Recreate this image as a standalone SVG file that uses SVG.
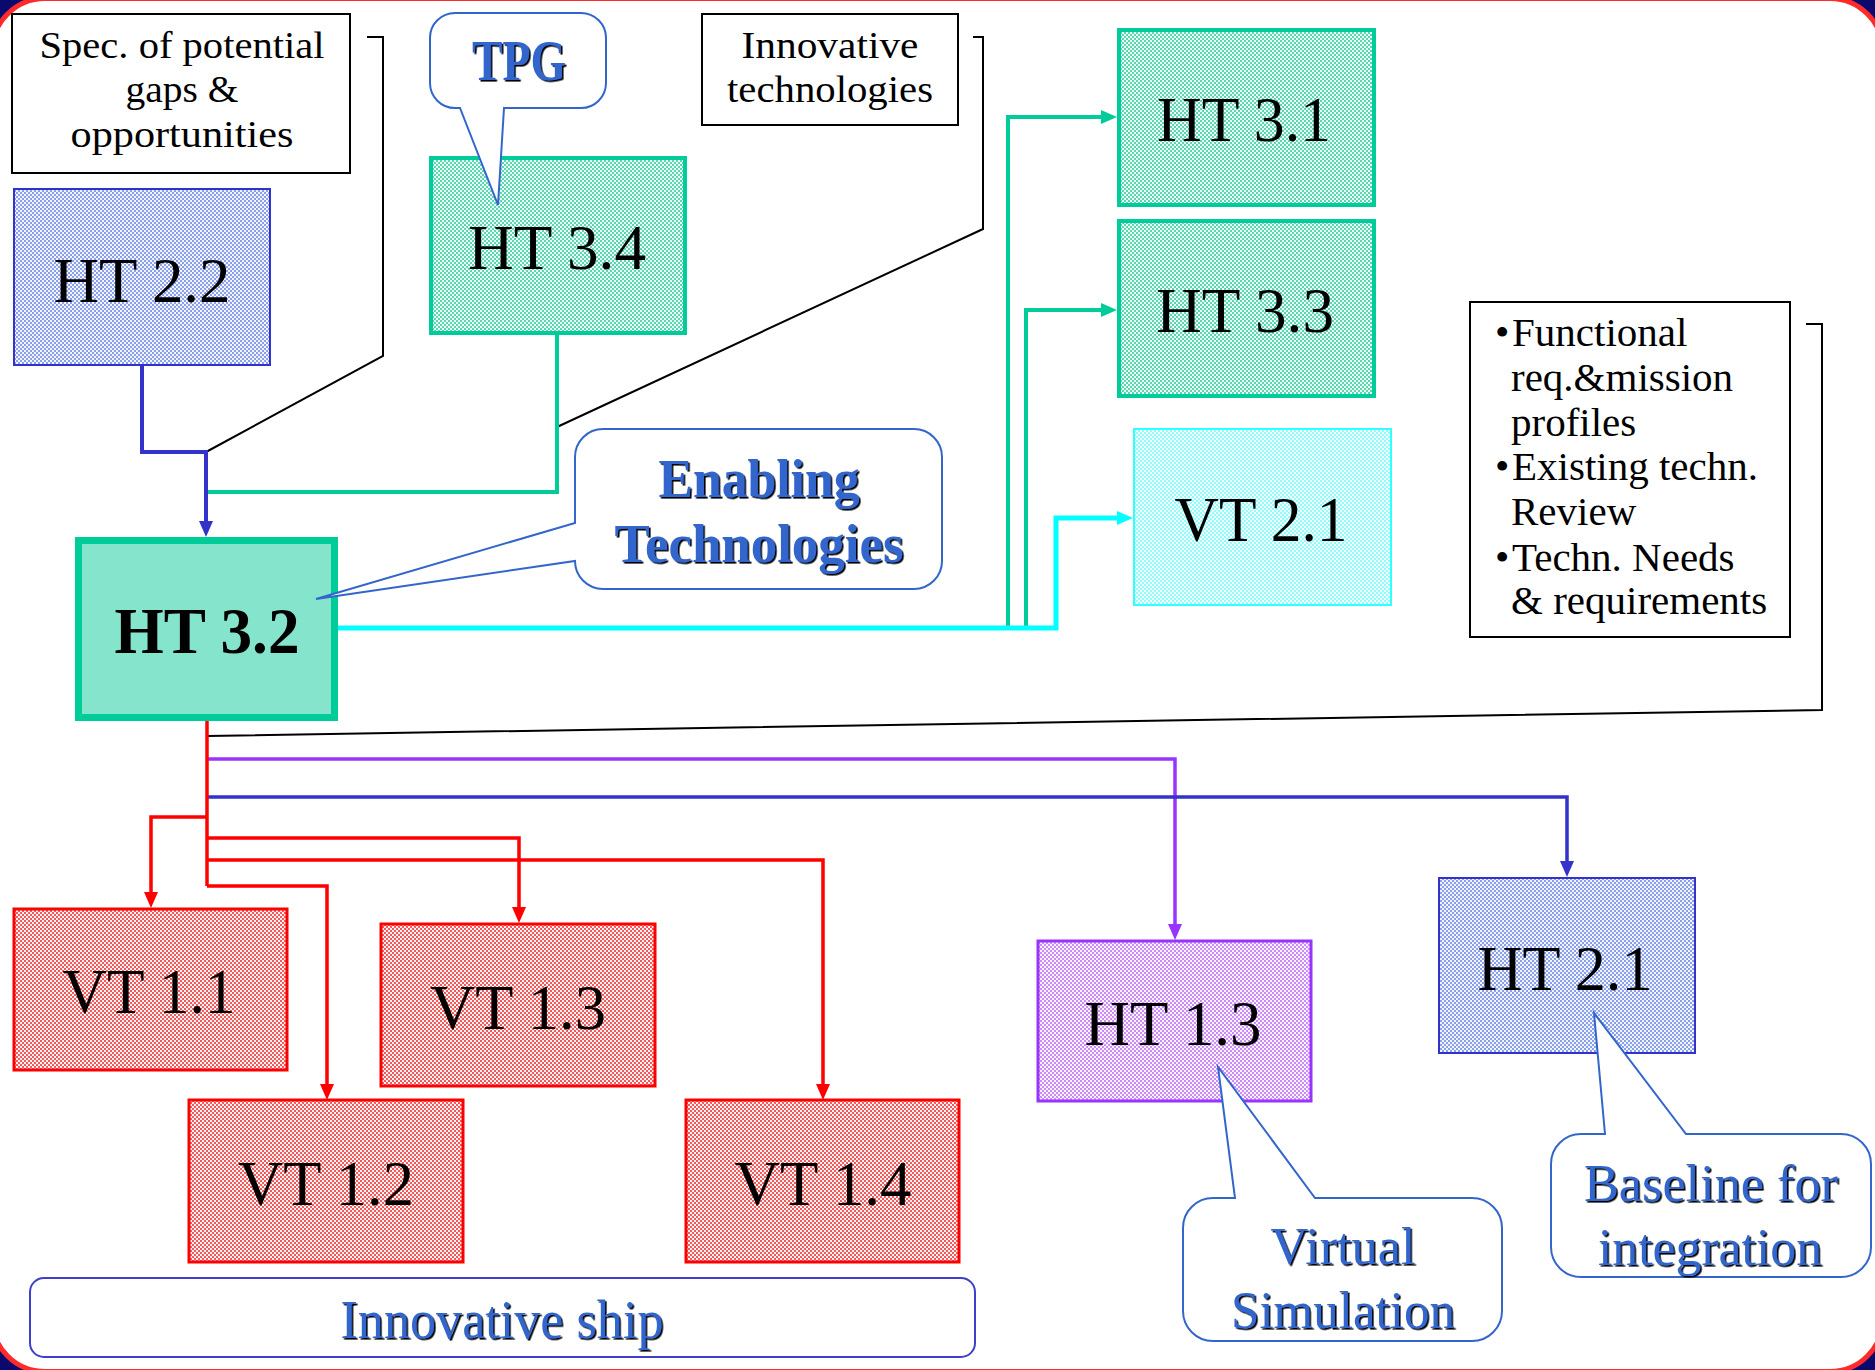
<svg xmlns="http://www.w3.org/2000/svg" width="1875" height="1370" viewBox="0 0 1875 1370">
  <style>
    .lbl { font-family: "Liberation Serif", "Times New Roman", serif; font-size: 64px; fill: #000; text-anchor: middle; }
    .note { font-family: "Liberation Serif", "Times New Roman", serif; font-size: 38px; fill: #000; text-anchor: middle; }
    .bul { font-family: "Liberation Serif", "Times New Roman", serif; font-size: 41px; fill: #000; }
    .call { font-family: "Liberation Serif", "Times New Roman", serif; font-size: 54px; fill: #3366cc; text-anchor: middle; filter: url(#shadow); }
    .bold { font-weight: bold; }
    .frame { fill: #fff; stroke: #000; stroke-width: 2; }
    .bubble { fill: #fff; stroke: #3366cc; stroke-width: 2; }
    .leader { fill: none; stroke: #000; stroke-width: 2; }
    .wire { fill: none; stroke-linejoin: miter; }
  </style>
  <defs>
    <filter id="shadow" x="-5%" y="-5%" width="115%" height="125%">
      <feDropShadow dx="1.6" dy="1.6" stdDeviation="0.3" flood-color="#000" flood-opacity="1"/>
    </filter>
    <!-- dotted screen fills -->
    <pattern id="dotBlue" width="4" height="4" patternUnits="userSpaceOnUse">
      <rect width="4" height="4" fill="#f2f5fe"/>
      <rect width="2" height="2" fill="#8aa0ea"/>
      <rect x="2" y="2" width="2" height="2" fill="#8aa0ea"/>
    </pattern>
    <pattern id="dotGreen" width="4" height="4" patternUnits="userSpaceOnUse">
      <rect width="4" height="4" fill="#ecfbf6"/>
      <rect width="2" height="2" fill="#5cd6b1"/>
      <rect x="2" y="2" width="2" height="2" fill="#5cd6b1"/>
    </pattern>
    <pattern id="dotRed" width="4" height="4" patternUnits="userSpaceOnUse">
      <rect width="4" height="4" fill="#fff2f2"/>
      <rect width="2" height="2" fill="#f05a5a"/>
      <rect x="2" y="2" width="2" height="2" fill="#f05a5a"/>
    </pattern>
    <pattern id="dotPurple" width="4" height="4" patternUnits="userSpaceOnUse">
      <rect width="4" height="4" fill="#fbf3ff"/>
      <rect width="2" height="2" fill="#cc8cf8"/>
      <rect x="2" y="2" width="2" height="2" fill="#cc8cf8"/>
    </pattern>
    <pattern id="dotCyan" width="4" height="4" patternUnits="userSpaceOnUse">
      <rect width="4" height="4" fill="#efffff"/>
      <rect width="2" height="2" fill="#95fafa"/>
      <rect x="2" y="2" width="2" height="2" fill="#95fafa"/>
    </pattern>
    <marker id="arrBlue" viewBox="0 0 16 14" refX="3" refY="7" markerWidth="16" markerHeight="14" markerUnits="userSpaceOnUse" orient="auto">
      <path d="M0,0 L16,7 L0,14 Z" fill="#3333cc"/>
    </marker>
    <marker id="arrGreen" viewBox="0 0 16 14" refX="3" refY="7" markerWidth="16" markerHeight="14" markerUnits="userSpaceOnUse" orient="auto">
      <path d="M0,0 L16,7 L0,14 Z" fill="#00cc99"/>
    </marker>
    <marker id="arrCyan" viewBox="0 0 16 14" refX="3" refY="7" markerWidth="16" markerHeight="14" markerUnits="userSpaceOnUse" orient="auto">
      <path d="M0,0 L16,7 L0,14 Z" fill="#00ffff"/>
    </marker>
    <marker id="arrRed" viewBox="0 0 16 14" refX="3" refY="7" markerWidth="16" markerHeight="14" markerUnits="userSpaceOnUse" orient="auto">
      <path d="M0,0 L16,7 L0,14 Z" fill="#ff0000"/>
    </marker>
    <marker id="arrPurple" viewBox="0 0 16 14" refX="3" refY="7" markerWidth="16" markerHeight="14" markerUnits="userSpaceOnUse" orient="auto">
      <path d="M0,0 L16,7 L0,14 Z" fill="#9933ff"/>
    </marker>
  </defs>

  <!-- page frame -->
  <g id="page">
    <rect x="0" y="0" width="1875" height="1370" fill="#0a0a6e"/>
    <rect x="-8" y="-1.5" width="1891" height="1373" rx="53" ry="53" fill="#fff" stroke="#ff2a2a" stroke-width="5"/>
  </g>

  <!-- connectors -->
  <g id="connectors">
    <!-- leader lines from the annotation boxes -->
    <polyline class="leader" points="367,37 383,37 383,356 206,452"/>
    <polyline class="leader" points="973,37 983,37 983,229 557,427"/>
    <polyline class="leader" points="1806,324 1822,324 1822,710 207,736"/>

    <!-- inputs into HT 3.2 -->
    <path class="wire" d="M557,334 V492 H206" stroke="#00cc99" stroke-width="4"/>
    <path class="wire" d="M142,365 V452 H206 V524" stroke="#3333cc" stroke-width="4" marker-end="url(#arrBlue)"/>

    <!-- outputs to HT 3.1 / HT 3.3 / VT 2.1 -->
    <path class="wire" d="M1008,630 V117 H1104" stroke="#00cc99" stroke-width="4" marker-end="url(#arrGreen)"/>
    <path class="wire" d="M1026,630 V310 H1104" stroke="#00cc99" stroke-width="4" marker-end="url(#arrGreen)"/>
    <path class="wire" d="M338,628 H1056 V518 H1120" stroke="#00ffff" stroke-width="5" marker-end="url(#arrCyan)"/>

    <!-- outputs to HT 1.3 and HT 2.1 -->
    <path class="wire" d="M207,759 H1175 V927" stroke="#9933ff" stroke-width="3.5" marker-end="url(#arrPurple)"/>
    <path class="wire" d="M207,797 H1567 V864" stroke="#3333cc" stroke-width="3.5" marker-end="url(#arrBlue)"/>

    <!-- outputs to VT 1.x -->
    <path class="wire" d="M207,721 V886" stroke="#ff0000" stroke-width="3.5"/>
    <path class="wire" d="M207,817 H151 V895" stroke="#ff0000" stroke-width="3.5" marker-end="url(#arrRed)"/>
    <path class="wire" d="M207,838 H519 V910" stroke="#ff0000" stroke-width="3.5" marker-end="url(#arrRed)"/>
    <path class="wire" d="M207,860 H823 V1087" stroke="#ff0000" stroke-width="3.5" marker-end="url(#arrRed)"/>
    <path class="wire" d="M207,886 H327 V1087" stroke="#ff0000" stroke-width="3.5" marker-end="url(#arrRed)"/>
  </g>

  <!-- annotation boxes -->
  <g id="spec-note">
    <rect class="frame" x="12" y="14" width="338" height="159"/>
    <text class="note" x="182" y="58" textLength="285" lengthAdjust="spacingAndGlyphs">Spec. of potential</text>
    <text class="note" x="182" y="102" textLength="113" lengthAdjust="spacingAndGlyphs">gaps &amp;</text>
    <text class="note" x="182" y="147" textLength="223" lengthAdjust="spacingAndGlyphs">opportunities</text>
  </g>

  <g id="innovative-note">
    <rect class="frame" x="702" y="14" width="256" height="111"/>
    <text class="note" x="830" y="58" textLength="177" lengthAdjust="spacingAndGlyphs">Innovative</text>
    <text class="note" x="830" y="102" textLength="206" lengthAdjust="spacingAndGlyphs">technologies</text>
  </g>

  <g id="requirements-note">
    <rect class="frame" x="1470" y="302" width="320" height="335"/>
    <text class="bul" y="346"><tspan x="1495">•</tspan><tspan x="1512">Functional</tspan></text>
    <text class="bul" x="1511" y="391">req.&amp;mission</text>
    <text class="bul" x="1511" y="436">profiles</text>
    <text class="bul" y="480"><tspan x="1495">•</tspan><tspan x="1512">Existing techn.</tspan></text>
    <text class="bul" x="1511" y="525">Review</text>
    <text class="bul" y="571"><tspan x="1495">•</tspan><tspan x="1512">Techn. Needs</tspan></text>
    <text class="bul" x="1511" y="614">&amp; requirements</text>
  </g>

  <!-- nodes -->
  <g id="ht22">
    <rect x="14" y="189" width="256" height="176" fill="url(#dotBlue)" stroke="#3333cc" stroke-width="2"/>
    <text class="lbl" x="142" y="302" textLength="177" lengthAdjust="spacingAndGlyphs">HT 2.2</text>
  </g>

  <g id="ht34">
    <rect x="431" y="158" width="254" height="175" fill="url(#dotGreen)" stroke="#00cc99" stroke-width="4"/>
    <text class="lbl" x="557" y="269" textLength="178" lengthAdjust="spacingAndGlyphs">HT 3.4</text>
  </g>

  <g id="ht31">
    <rect x="1119" y="30" width="255" height="175" fill="url(#dotGreen)" stroke="#00cc99" stroke-width="4"/>
    <text class="lbl" x="1244" y="141" textLength="174" lengthAdjust="spacingAndGlyphs">HT 3.1</text>
  </g>

  <g id="ht33">
    <rect x="1119" y="221" width="255" height="175" fill="url(#dotGreen)" stroke="#00cc99" stroke-width="4"/>
    <text class="lbl" x="1245" y="332" textLength="178" lengthAdjust="spacingAndGlyphs">HT 3.3</text>
  </g>

  <g id="vt21">
    <rect x="1134" y="429" width="257" height="176" fill="url(#dotCyan)" stroke="#33ffff" stroke-width="2"/>
    <text class="lbl" x="1261" y="541" textLength="173" lengthAdjust="spacingAndGlyphs">VT 2.1</text>
  </g>

  <g id="ht32">
    <rect x="78.5" y="540.5" width="256" height="177" fill="#84e4cc" stroke="#00cc99" stroke-width="7"/>
    <text class="lbl bold" x="207" y="653" style="font-size:66px" textLength="185" lengthAdjust="spacingAndGlyphs">HT 3.2</text>
  </g>

  <g id="vt11">
    <rect x="14" y="909" width="273" height="161" fill="url(#dotRed)" stroke="#ff0000" stroke-width="3"/>
    <text class="lbl" x="149" y="1013" textLength="173" lengthAdjust="spacingAndGlyphs">VT 1.1</text>
  </g>

  <g id="vt13">
    <rect x="381" y="924" width="274" height="162" fill="url(#dotRed)" stroke="#ff0000" stroke-width="3"/>
    <text class="lbl" x="518" y="1029" textLength="176" lengthAdjust="spacingAndGlyphs">VT 1.3</text>
  </g>

  <g id="vt12">
    <rect x="189" y="1100" width="274" height="162" fill="url(#dotRed)" stroke="#ff0000" stroke-width="3"/>
    <text class="lbl" x="326" y="1205" textLength="176" lengthAdjust="spacingAndGlyphs">VT 1.2</text>
  </g>

  <g id="vt14">
    <rect x="686" y="1100" width="273" height="162" fill="url(#dotRed)" stroke="#ff0000" stroke-width="3"/>
    <text class="lbl" x="823" y="1205" textLength="177" lengthAdjust="spacingAndGlyphs">VT 1.4</text>
  </g>

  <g id="ht13">
    <rect x="1038" y="941" width="273" height="160" fill="url(#dotPurple)" stroke="#9933ff" stroke-width="3"/>
    <text class="lbl" x="1173" y="1045" textLength="177" lengthAdjust="spacingAndGlyphs">HT 1.3</text>
  </g>

  <g id="ht21">
    <rect x="1439" y="878" width="256" height="175" fill="url(#dotBlue)" stroke="#3333cc" stroke-width="2"/>
    <text class="lbl" x="1565" y="990" textLength="175" lengthAdjust="spacingAndGlyphs">HT 2.1</text>
  </g>

  <!-- callouts -->
  <g id="tpg-callout">
    <path class="bubble" d="M455,13 H581 A25,25 0 0 1 606,38 V83 A25,25 0 0 1 581,108 H504 L498,205 L460,108 H455 A25,25 0 0 1 430,83 V38 A25,25 0 0 1 455,13 Z"/>
    <text class="call bold" x="519" y="80" style="font-size:56px" textLength="94" lengthAdjust="spacingAndGlyphs">TPG</text>
  </g>

  <g id="enabling-callout">
    <path class="bubble" d="M603,429 H914 A28,28 0 0 1 942,457 V561 A28,28 0 0 1 914,589 H603 A28,28 0 0 1 575,561 L316,599 L575,523 V457 A28,28 0 0 1 603,429 Z"/>
    <text class="call bold" x="759" y="497" style="font-size:55px" textLength="201" lengthAdjust="spacingAndGlyphs">Enabling</text>
    <text class="call bold" x="759" y="562" style="font-size:55px" textLength="289" lengthAdjust="spacingAndGlyphs">Technologies</text>
  </g>

  <g id="ship-label">
    <rect x="30" y="1278" width="945" height="79" rx="14" ry="14" fill="#fff" stroke="#3f3fcc" stroke-width="2"/>
    <text class="call" x="502" y="1338" style="font-size:55px" textLength="323" lengthAdjust="spacingAndGlyphs">Innovative ship</text>
  </g>

  <g id="simulation-callout">
    <path class="bubble" d="M1213,1198 H1235 L1218,1067 L1315,1198 H1472 A30,30 0 0 1 1502,1228 V1311 A30,30 0 0 1 1472,1341 H1213 A30,30 0 0 1 1183,1311 V1228 A30,30 0 0 1 1213,1198 Z"/>
    <text class="call" x="1343" y="1264" style="font-size:53px" textLength="145" lengthAdjust="spacingAndGlyphs">Virtual</text>
    <text class="call" x="1343" y="1328" style="font-size:53px" textLength="224" lengthAdjust="spacingAndGlyphs">Simulation</text>
  </g>

  <g id="baseline-callout">
    <path class="bubble" d="M1581,1134 H1605 L1594,1013 L1686,1134 H1841 A30,30 0 0 1 1871,1164 V1247 A30,30 0 0 1 1841,1277 H1581 A30,30 0 0 1 1551,1247 V1164 A30,30 0 0 1 1581,1134 Z"/>
    <text class="call" x="1711" y="1201" style="font-size:53px" textLength="254" lengthAdjust="spacingAndGlyphs">Baseline for</text>
    <text class="call" x="1710" y="1265" style="font-size:53px" textLength="224" lengthAdjust="spacingAndGlyphs">integration</text>
  </g>
</svg>
